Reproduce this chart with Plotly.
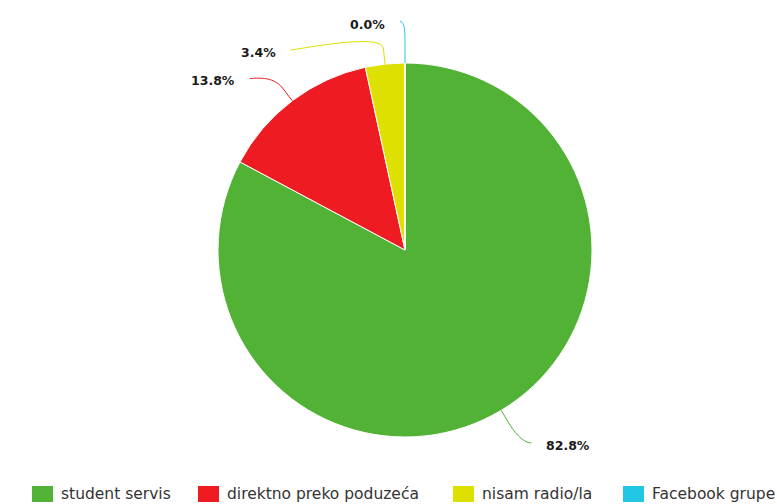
import math
import plotly.graph_objects as go

# ---- data ----
categories = ["student servis", "direktno preko poduzeća", "nisam radio/la", "Facebook grupe"]
values = [82.8, 13.8, 3.4, 0.0]
colors = ["#52b236", "#ee1c22", "#dde000", "#22c8e3"]

# ---- layout constants (pixels) ----
W, H = 777, 504
CX, CY, R = 405, 250, 187
LABEL_R = 228
PAD = 5
TEXT_GAP = 13
LABEL_TOP = 24
LABEL_STEP = 28.5
BREAK_OFF = 16
LEGEND_X = [32, 198, 453, 623]
LEGEND_Y = 494


def px(x):
    return x / W


def py(y):
    return 1 - y / H


fig = go.Figure()
fig.add_trace(go.Pie(
    labels=categories, values=values, sort=False, direction="clockwise", rotation=0,
    marker=dict(colors=colors, line=dict(color="#ffffff", width=1)),
    textinfo="none", showlegend=False, hoverinfo="label+percent",
    domain=dict(x=[px(CX - R), px(CX + R)], y=[py(CY + R), py(CY - R)]),
))

# ---- data labels with connectors ----
total = sum(values)
cum = 0.0
items = []
for i, v in enumerate(values):
    mid = (cum + v / 2) / total * 2 * math.pi
    cum += v
    s, c = math.sin(mid), math.cos(mid)
    left = mid >= math.pi
    items.append(dict(i=i, s=s, c=c, left=left, ny=CY - LABEL_R * c))

for side in (True, False):
    group = sorted([it for it in items if it["left"] == side], key=lambda it: it["ny"])
    prev = None
    for it in group:
        y = max(it["ny"], LABEL_TOP)
        if prev is not None:
            y = max(y, prev + LABEL_STEP)
        it["ty"] = y
        prev = y

shapes = []
annotations = []
for it in items:
    i, s, c, left = it["i"], it["s"], it["c"], it["left"]
    ty = it["ty"]
    ly = ty - 2.5
    dy = ly - CY
    dx = math.sqrt(max(0.0, LABEL_R ** 2 - dy ** 2))
    sign = -1 if left else 1
    lx = CX + sign * (dx + PAD)
    tx, tyy = CX + R * s, CY - R * c
    bx, by = CX + (R + BREAK_OFF) * s, CY - (R + BREAK_OFF) * c
    c2x, c2y = 2 * bx - tx, 2 * by - tyy
    c1x = lx - sign * 5
    path = (f"M {px(lx)},{py(ly)} C {px(c1x)},{py(ly)} {px(c2x)},{py(c2y)} {px(bx)},{py(by)} "
            f"L {px(tx)},{py(tyy)}")
    shapes.append(dict(type="path", xref="paper", yref="paper", path=path,
                       line=dict(color=colors[i], width=1)))
    annotations.append(dict(
        x=px(lx + sign * TEXT_GAP), y=py(ty), xref="paper", yref="paper",
        text=f"<b>{values[i]:.1f}%</b>", showarrow=False,
        xanchor="right" if left else "left", yanchor="middle",
        font=dict(family="DejaVu Sans", size=12.5, color="#1a1a1a"),
    ))

# ---- legend ----
for i, name in enumerate(categories):
    x0 = LEGEND_X[i]
    shapes.append(dict(type="rect", xref="paper", yref="paper",
                       x0=px(x0), x1=px(x0 + 21), y0=py(LEGEND_Y + 8), y1=py(LEGEND_Y - 8),
                       fillcolor=colors[i], line=dict(width=0)))
    annotations.append(dict(
        x=px(x0 + 27), y=py(LEGEND_Y), xref="paper", yref="paper", text=name,
        showarrow=False, xanchor="left", yanchor="middle",
        font=dict(family="DejaVu Sans", size=15.5, color="#333333"),
    ))

fig.update_layout(
    width=W, height=H, autosize=False,
    margin=dict(l=0, r=0, t=0, b=0),
    paper_bgcolor="#ffffff", plot_bgcolor="#ffffff",
    shapes=shapes, annotations=annotations,
)

fig.write_html("out.html", config={"displayModeBar": False},
               post_script="document.body.style.margin='0';")
